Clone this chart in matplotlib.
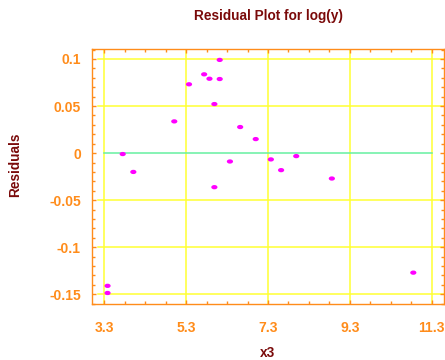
import numpy as np
import matplotlib
matplotlib.use("Agg")
import matplotlib.pyplot as plt
from matplotlib.path import Path
from matplotlib.ticker import MultipleLocator, FixedLocator

plt.rcParams['font.family'] = ['Liberation Sans', 'DejaVu Sans']

# Residuals of the log(y) fit against x3
x3 = [3.75, 4.01, 5.01, 5.37, 5.74, 5.87, 6.12, 6.12, 5.99, 5.99,
      6.37, 6.62, 7.00, 7.37, 7.62, 7.99, 8.86, 10.85, 3.38, 3.38]
residuals = [-0.001, -0.020, 0.0337, 0.0731, 0.0837, 0.079, 0.099, 0.0787,
             0.0521, -0.0362, -0.0089, 0.0277, 0.0149, -0.0067, -0.0181,
             -0.0032, -0.027, -0.127, -0.141, -0.1486]

x_ticks = [3.3, 5.3, 7.3, 9.3, 11.3]
x_tick_labels = ["3.3", "5.3", "7.3", "9.3", "11.3"]
y_ticks = [-0.15, -0.1, -0.05, 0, 0.05, 0.1]
y_tick_labels = ["-0.15", "-0.1", "-0.05", "0", "0.05", "0.1"]

ORANGE = "#FF8C1A"
DARKRED = "#7A0A0A"
YELLOW = "#FFFF33"
GREEN = "#66F0A0"
MAGENTA = "#FF00FF"

fig = plt.figure(figsize=(4.45, 3.6), dpi=100)
ax = fig.add_axes([92 / 445, 56 / 360, 352 / 445, 255 / 360])

ax.set_xlim(3.0, 11.6)
ax.set_ylim(-0.1603, 0.1106)

# grid lines
for xv in x_ticks:
    ax.axvline(xv, color=YELLOW, lw=1.1, zorder=1)
for yv in y_ticks:
    if yv == 0:
        continue
    ax.plot([3.154, 11.6], [yv, yv], color=YELLOW, lw=1.1, zorder=1)
ax.plot([3.3, 11.3], [0, 0], color=GREEN, lw=1.1, zorder=2)

# elliptical point marker
circle = Path.unit_circle()
ellipse = Path(circle.vertices * np.array([1.45, 1.0]), circle.codes)
ax.scatter(x3, residuals, marker=ellipse, s=20, color=MAGENTA,
           edgecolors='none', zorder=3)

ax.xaxis.set_major_locator(FixedLocator(x_ticks))
ax.set_xticklabels(x_tick_labels)
ax.xaxis.set_minor_locator(FixedLocator(np.arange(3.3 - 0.5, 11.6, 0.5)))
ax.yaxis.set_major_locator(FixedLocator(y_ticks))
ax.set_yticklabels(y_tick_labels)
ax.yaxis.set_minor_locator(MultipleLocator(0.01))

ax.tick_params(which='both', direction='in', top=True, right=True,
               color=ORANGE, width=1.0)
ax.tick_params(which='major', length=3.0)
ax.tick_params(which='minor', length=2.2)
ax.tick_params(axis='x', which='major', pad=12, labelsize=10,
               labelcolor=ORANGE)
ax.tick_params(axis='y', which='major', pad=8, labelsize=10,
               labelcolor=ORANGE)
for lbl in ax.get_xticklabels() + ax.get_yticklabels():
    lbl.set_fontweight('bold')

for sp in ax.spines.values():
    sp.set_color(ORANGE)
    sp.set_linewidth(1.0)

fig.text(268 / 445, 1 - 16 / 360, "Residual Plot for log(y)", ha='center',
         va='center', fontsize=9.8, fontweight='bold', color=DARKRED)
fig.text(268 / 445, 1 - 353 / 360, "x3", ha='center', va='center',
         fontsize=9.8, fontweight='bold', color=DARKRED)
fig.text(15 / 445, 1 - 165 / 360, "Residuals", ha='center', va='center',
         rotation=90, fontsize=9.8, fontweight='bold', color=DARKRED)

fig.savefig("out.png", dpi=100, facecolor='white')
